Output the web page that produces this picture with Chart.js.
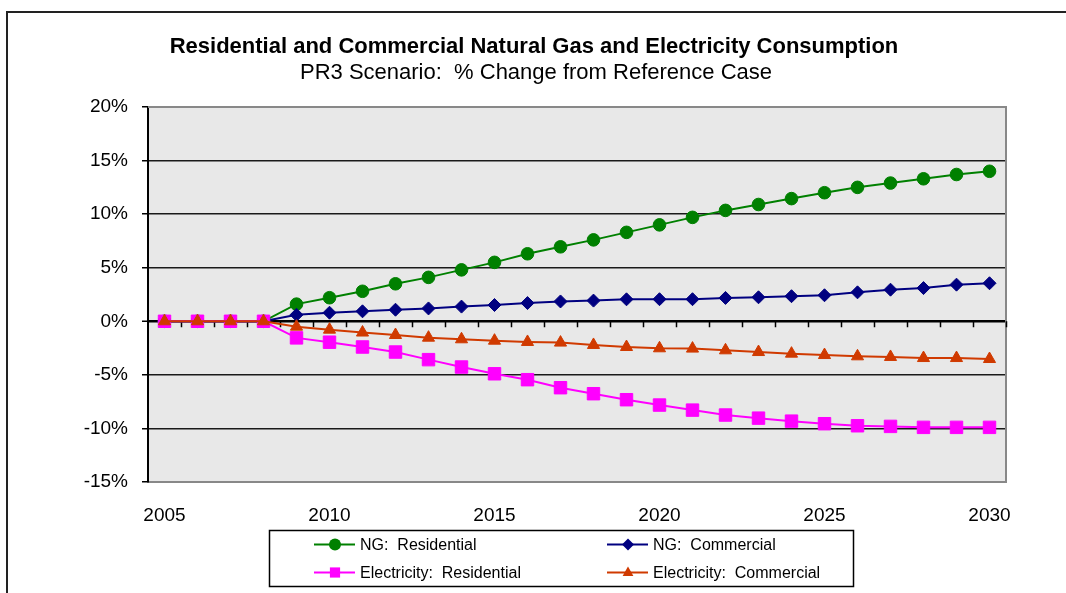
<!DOCTYPE html>
<html>
<head>
<meta charset="utf-8">
<script src="https://cdn.jsdelivr.net/npm/chart.js@4/dist/chart.umd.min.js"></script>
<style>
  html, body { margin: 0; padding: 0; background: #fff; overflow: hidden; }
  #wrap { position: relative; width: 1066px; height: 593px; }
</style>
</head>
<body>
<div id="wrap"><canvas id="grafico" width="1066" height="593"></canvas></div>
<script>
// Datos (% cambio vs caso de referencia)
const anios = [2005, 2006, 2007, 2008, 2009, 2010, 2011, 2012, 2013, 2014, 2015, 2016, 2017,
               2018, 2019, 2020, 2021, 2022, 2023, 2024, 2025, 2026, 2027, 2028, 2029, 2030];
const aniosEtiqueta = [2005, 2010, 2015, 2020, 2025, 2030];
const ticksY = [-15, -10, -5, 0, 5, 10, 15, 20];

const ngResidencial = [0, 0, 0, 0, 1.6, 2.2, 2.8, 3.5, 4.1, 4.8, 5.5, 6.3, 6.95,
                       7.6, 8.3, 9.0, 9.7, 10.35, 10.9, 11.45, 12.0, 12.5, 12.9, 13.3, 13.7, 14.0];
const ngComercial = [0, 0, 0, 0, 0.6, 0.8, 0.93, 1.08, 1.2, 1.37, 1.52, 1.7, 1.85,
                     1.93, 2.05, 2.06, 2.06, 2.18, 2.24, 2.34, 2.43, 2.7, 2.95, 3.1, 3.42, 3.55];
const elecResidencial = [0, 0, 0, 0, -1.55, -1.95, -2.4, -2.87, -3.58, -4.27, -4.9, -5.45, -6.2,
                         -6.76, -7.32, -7.82, -8.29, -8.75, -9.04, -9.32, -9.56, -9.75, -9.81, -9.9, -9.9, -9.9];
const elecComercial = [0, 0, 0, 0, -0.5, -0.78, -1.05, -1.28, -1.53, -1.68, -1.81, -1.93, -1.99,
                       -2.21, -2.4, -2.52, -2.55, -2.71, -2.87, -3.02, -3.15, -3.27, -3.33, -3.43, -3.43, -3.52];

const fuente = 'Liberation Sans, Arial, sans-serif';

// Fondo, marco exterior y marcas sobre la linea del 0%
const fondo = {
  id: 'fondo',
  beforeDraw(chart) {
    const { ctx, chartArea: a } = chart;
    ctx.save();
    ctx.fillStyle = '#fff';
    ctx.fillRect(0, 0, chart.width, chart.height);
    ctx.strokeStyle = '#222';
    ctx.lineWidth = 2;
    ctx.beginPath();
    ctx.moveTo(7, 600);
    ctx.lineTo(7, 12);
    ctx.lineTo(1070, 12);
    ctx.stroke();
    ctx.fillStyle = '#e8e8e8';
    ctx.fillRect(a.left, a.top, a.right - a.left, a.bottom - a.top);
    ctx.restore();
  },
  beforeDatasetsDraw(chart) {
    const { ctx, chartArea: a, scales } = chart;
    const y0 = scales.y.getPixelForValue(0);
    const paso = (a.right - a.left) / anios.length;
    ctx.save();
    ctx.strokeStyle = '#888';
    ctx.lineWidth = 2;
    ctx.beginPath();
    ctx.moveTo(a.left, a.top);
    ctx.lineTo(a.right, a.top);
    ctx.lineTo(a.right, a.bottom);
    ctx.stroke();
    ctx.strokeStyle = '#000';
    ctx.lineWidth = 1.5;
    ctx.beginPath();
    for (let i = 1; i <= anios.length; i++) {
      const x = Math.round(a.left + i * paso) + 0.5;
      ctx.moveTo(x, y0);
      ctx.lineTo(x, y0 + 6);
    }
    ctx.stroke();
    ctx.restore();
  }
};

function dibujarMarcador(ctx, estilo, x, y, r) {
  ctx.beginPath();
  if (estilo === 'circle') {
    ctx.arc(x, y, r, 0, Math.PI * 2);
  } else if (estilo === 'rectRot') {
    ctx.moveTo(x - r, y); ctx.lineTo(x, y - r); ctx.lineTo(x + r, y); ctx.lineTo(x, y + r);
  } else if (estilo === 'rect') {
    ctx.rect(x - r * 0.85, y - r * 0.85, r * 1.7, r * 1.7);
  } else {
    ctx.moveTo(x, y - r); ctx.lineTo(x + r * 0.9, y + r * 0.6); ctx.lineTo(x - r * 0.9, y + r * 0.6);
  }
  ctx.closePath();
  ctx.fill();
}

// Titulos y leyenda en 2x2
const textos = {
  id: 'textos',
  afterDraw(chart) {
    const ctx = chart.ctx;
    ctx.save();
    ctx.fillStyle = '#000';
    ctx.textAlign = 'center';
    ctx.textBaseline = 'middle';
    ctx.font = 'bold 22px ' + fuente;
    ctx.fillText('Residential and Commercial Natural Gas and Electricity Consumption', 534, 47);
    ctx.font = '22px ' + fuente;
    ctx.fillText('PR3 Scenario:  % Change from Reference Case', 536, 73);

    ctx.strokeStyle = '#000';
    ctx.lineWidth = 1.5;
    ctx.strokeRect(269.5, 530.5, 584, 56);

    const colX = [314, 607];
    const filaY = [544.5, 572.5];
    ctx.font = '16px ' + fuente;
    ctx.textAlign = 'left';
    chart.data.datasets.forEach((ds, i) => {
      const x = colX[i % 2], y = filaY[Math.floor(i / 2)];
      ctx.strokeStyle = ds.borderColor;
      ctx.lineWidth = 2;
      ctx.beginPath();
      ctx.moveTo(x, y);
      ctx.lineTo(x + 41, y);
      ctx.stroke();
      ctx.fillStyle = ds.backgroundColor;
      dibujarMarcador(ctx, ds.pointStyle, x + 21, y, 6);
      ctx.fillStyle = '#000';
      ctx.fillText(ds.label, x + 46, y + 1);
    });
    ctx.restore();
  }
};

const serie = (label, data, color, estilo, radio, orden) => ({
  label, data,
  borderColor: color,
  backgroundColor: color,
  borderWidth: 2,
  pointStyle: estilo,
  pointRadius: radio,
  pointBorderWidth: 1,
  pointBorderColor: color,
  pointBackgroundColor: color,
  tension: 0,
  order: orden
});

new Chart(document.getElementById('grafico'), {
  type: 'line',
  data: {
    labels: anios,
    datasets: [
      serie('NG:  Residential', ngResidencial, '#008000', 'circle', 6.3, 4),
      serie('NG:  Commercial', ngComercial, '#000080', 'rectRot', 6.5, 3),
      serie('Electricity:  Residential', elecResidencial, '#ff00ff', 'rect', 8.8, 2),
      serie('Electricity:  Commercial', elecComercial, '#d03a00', 'triangle', 7, 1)
    ]
  },
  options: {
    responsive: false,
    animation: false,
    layout: { padding: { left: 0, top: 107, right: 60, bottom: 0 } },
    plugins: { legend: { display: false }, title: { display: false }, tooltip: { enabled: false } },
    scales: {
      x: {
        type: 'category',
        offset: true,
        grid: { display: false, drawTicks: false },
        border: { display: true, color: '#888', width: 2 },
        ticks: {
          autoSkip: false, maxRotation: 0, padding: 22, color: '#000',
          font: { family: fuente, size: 19 },
          callback: (v, i) => aniosEtiqueta.includes(anios[i]) ? String(anios[i]) : ''
        },
        afterFit: s => { s.height = 111; }
      },
      y: {
        min: -15, max: 20,
        afterBuildTicks: s => { s.ticks = ticksY.map(v => ({ value: v })); },
        ticks: { padding: 14, color: '#000', font: { family: fuente, size: 19 }, callback: v => v + '%' },
        grid: {
          color: c => (c.tick.value === 20 || c.tick.value === -15) ? '#888' : (c.tick.value === 0 ? '#000' : '#1a1a1a'),
          lineWidth: c => c.tick.value === 0 ? 2.5 : 1.5,
          tickLength: 6, tickColor: '#000', tickWidth: 1.5
        },
        border: { color: '#000', width: 2 },
        afterFit: s => { s.width = 148; }
      }
    }
  },
  plugins: [fondo, textos]
});
</script>
</body>
</html>
